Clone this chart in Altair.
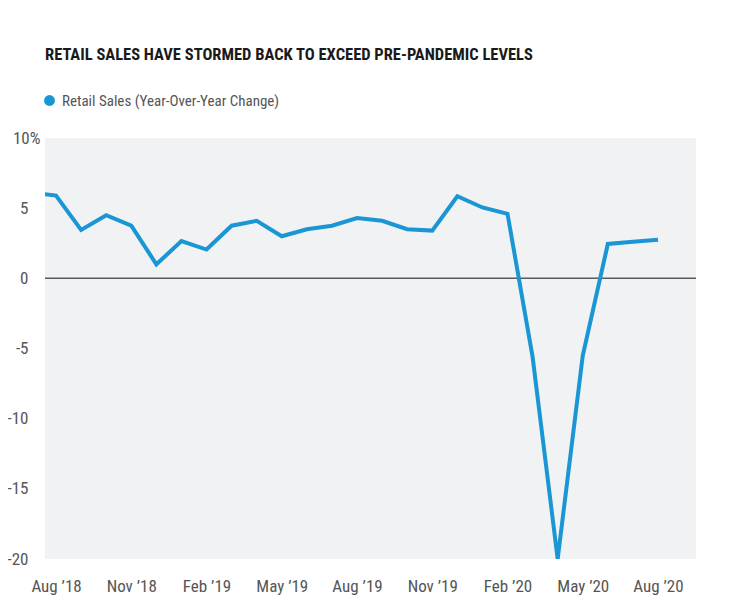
import altair as alt
import pandas as pd

# ---- data ----
months = ["2018-07", "2018-08", "2018-09", "2018-10", "2018-11", "2018-12",
          "2019-01", "2019-02", "2019-03", "2019-04", "2019-05", "2019-06",
          "2019-07", "2019-08", "2019-09", "2019-10", "2019-11", "2019-12",
          "2020-01", "2020-02", "2020-03", "2020-04", "2020-05", "2020-06",
          "2020-07", "2020-08"]
retail_sales = [6.1, 5.9, 3.45, 4.5, 3.75, 1.0,
                2.65, 2.05, 3.75, 4.1, 3.0, 3.5,
                3.75, 4.3, 4.1, 3.5, 3.4, 5.85,
                5.05, 4.6, -5.6, -20.0, -5.5, 2.45,
                2.6, 2.75]
x_tick_labels = ["Aug \u201918", "Nov \u201918", "Feb \u201919", "May \u201919", "Aug \u201919",
                 "Nov \u201919", "Feb \u201920", "May \u201920", "Aug \u201920"]
y_ticks = [-20, -15, -10, -5, 0, 5, 10]
series_name = "Retail Sales (Year-Over-Year Change)"
title_text = "RETAIL SALES HAVE STORMED BACK TO EXCEED PRE-PANDEMIC LEVELS"

# month index: Aug '18 = 0
df = pd.DataFrame({
    "month": months,
    "idx": list(range(-1, len(months) - 1)),
    "value": retail_sales,
    "series": [series_name] * len(months),
})
zero = pd.DataFrame({"y": [0]})

FONT = "Roboto Condensed, Roboto, sans-serif"
LINE_COLOR = "#1a96d4"
LABEL_COLOR = "#555555"

x_label_expr = "[" + ",".join("'" + s + "'" for s in x_tick_labels) + "][round(datum.value / 3)]"

x_enc = alt.X(
    "idx:Q",
    scale=alt.Scale(domain=[-0.44, 25.515], nice=False, zero=False),
    axis=alt.Axis(values=[0, 3, 6, 9, 12, 15, 18, 21, 24], labelExpr=x_label_expr,
                  title=None, grid=False, ticks=False, domain=False,
                  labelFont=FONT, labelFontSize=17, labelColor=LABEL_COLOR,
                  labelPadding=19, labelBaseline="top", labelAlign="center"),
)
y_enc = alt.Y(
    "value:Q",
    scale=alt.Scale(domain=[-20, 10], nice=False, zero=False),
    axis=alt.Axis(values=y_ticks, labelExpr="datum.value == 10 ? '10%' : datum.value",
                  title=None, grid=False, ticks=False, domain=False,
                  labelFont=FONT, labelFontSize=17, labelColor=LABEL_COLOR,
                  labelAlign="right", labelBaseline="middle",
                  labelPadding={"condition": {"test": "datum.value == 10", "value": 5}, "value": 17}),
)

rule = alt.Chart(zero).mark_rule(color="#5a5a5a", strokeWidth=1.5).encode(
    y=alt.Y("y:Q", scale=alt.Scale(domain=[-20, 10], nice=False, zero=False))
)

line = alt.Chart(df).mark_line(strokeWidth=4, clip=True, strokeJoin="miter").encode(
    x=x_enc,
    y=y_enc,
    color=alt.Color(
        "series:N",
        scale=alt.Scale(domain=[series_name], range=[LINE_COLOR]),
        legend=alt.Legend(
            title=None, orient="none", legendX=-3, legendY=-45,
            symbolType="circle", symbolSize=120, symbolStrokeWidth=0,
            symbolFillColor=LINE_COLOR,
            labelFont=FONT, labelFontSize=15, labelColor=LABEL_COLOR,
            labelOffset=5, labelLimit=400,
        ),
    ),
)

chart = alt.layer(rule, line).properties(
    width=651,
    height=421,
    background="white",
    title=alt.TitleParams(
        title_text, anchor="start", frame="group", font=FONT, fontSize=16.5,
        fontWeight="bold", color="#1a1a1a", offset=30,
    ),
    autosize=alt.AutoSizeParams(type="none"),
    padding={"left": 37, "top": 130, "right": 36, "bottom": 48},
).configure_view(
    fill="#f1f2f4", strokeWidth=0
)

chart.save("out.html", embed_options={"renderer": "svg", "actions": False})
